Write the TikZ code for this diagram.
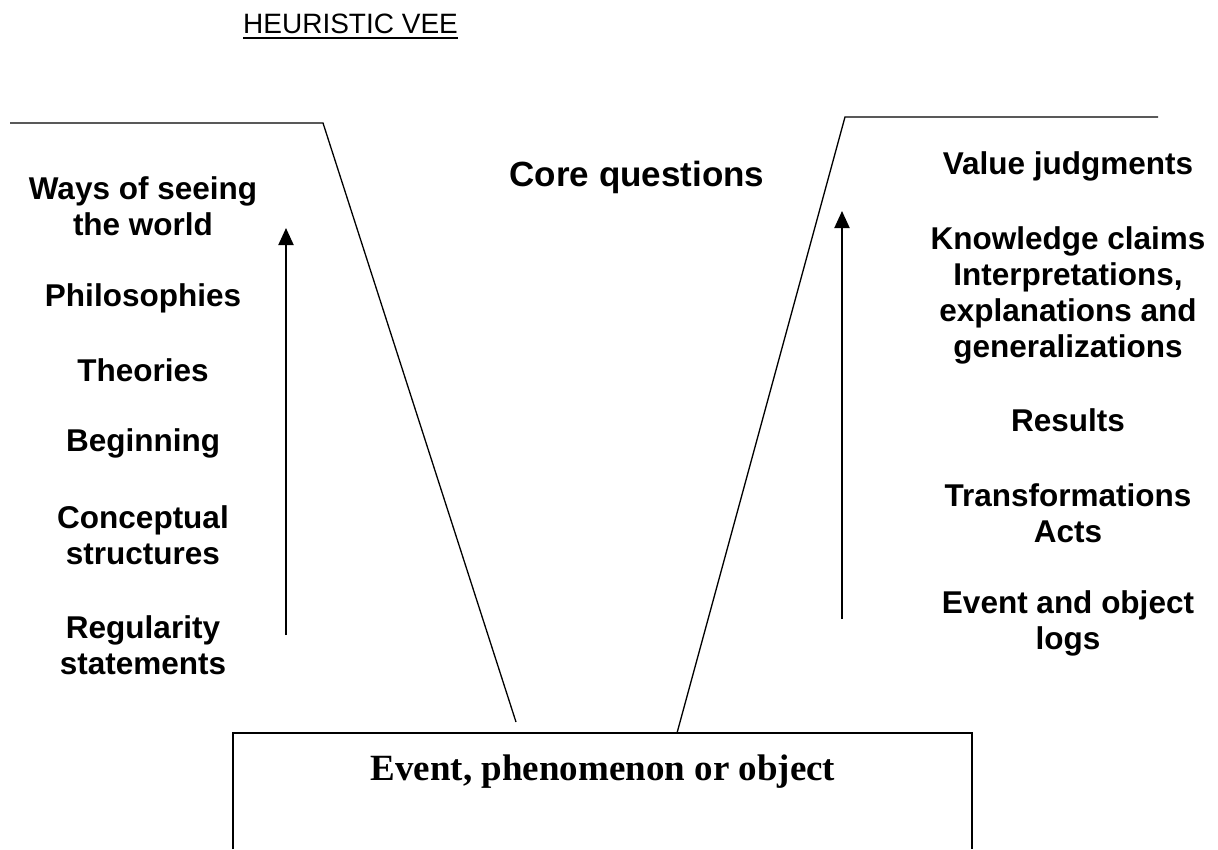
\documentclass[tikz,border=0pt]{standalone}
\usepackage{fontspec}
\setmainfont{Liberation Sans}
\newfontfamily\serifbold{Liberation Serif}
\usetikzlibrary{arrows.meta}
\begin{document}
\begin{tikzpicture}[x=1pt,y=-1pt,
  lbl/.style={font=\fontsize{31.5}{36}\selectfont\bfseries, align=center, inner sep=0pt},
  vline/.style={line width=1.3pt},
  uparrow/.style={line width=2pt, -{Triangle[length=17pt,width=15pt]}}]
\useasboundingbox (0,0) rectangle (1218,849);
% title
\node[anchor=base west, inner sep=0pt, font=\fontsize{28}{32}\selectfont] (title) at (243,33) {HEURISTIC VEE};
\draw[line width=2.6pt] ([yshift=-5pt]title.base west) -- ([yshift=-5pt]title.base east);
% V lines
\coordinate (l0) at (10,123);
\coordinate (l1) at (323,123);
\coordinate (l2) at (516,722);
\coordinate (r0) at (1158,117);
\coordinate (r1) at (845,117);
\coordinate (r2) at (677,733);
\draw[vline] (l0) -- (l1) -- (l2);
\draw[vline] (r0) -- (r1) -- (r2);
% box
\coordinate (b1) at (233,849);
\coordinate (b2) at (233,733);
\coordinate (b3) at (972,733);
\coordinate (b4) at (972,849);
\draw[line width=2pt] (b1) -- (b2) -- (b3) -- (b4);
\node[inner sep=0pt, anchor=base, font=\serifbold\fontsize{37}{40}\selectfont\bfseries] (event) at (603,780) {Event, phenomenon or object};
% arrows
\coordinate (la0) at (286,635);
\coordinate (la1) at (286,228);
\coordinate (ra0) at (842,619);
\coordinate (ra1) at (842,211);
\draw[uparrow] (la0) -- (la1);
\draw[uparrow] (ra0) -- (ra1);
% core
\node[lbl, font=\fontsize{35}{40}\selectfont\bfseries] (core) at (637,177) {Core questions};
% left labels
\node[lbl] (ways) at (143,206) {Ways of seeing\\the world};
\node[lbl] (phil) at (143,298) {Philosophies};
\node[lbl] (theo) at (143,370) {Theories};
\node[lbl] (begin) at (143,443) {Beginning};
\node[lbl] (conc) at (143,535) {Conceptual\\structures};
\node[lbl] (reg) at (143,645) {Regularity\\statements};
% right labels
\node[lbl] (value) at (1068,166) {Value judgments};
\node[lbl] (know) at (1068,295) {Knowledge claims\\Interpretations,\\explanations and\\generalizations};
\node[lbl] (res) at (1068,420) {Results};
\node[lbl] (trans) at (1068,513) {Transformations\\Acts};
\node[lbl] (evlog) at (1068,623) {Event and object\\logs};
\end{tikzpicture}
\end{document}
